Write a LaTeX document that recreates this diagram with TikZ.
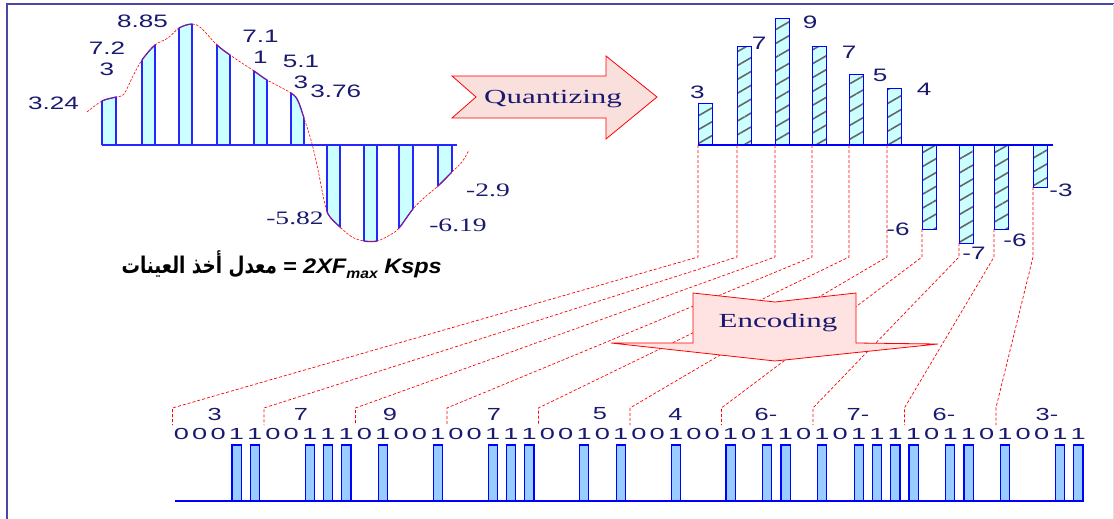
\documentclass[tikz,border=0pt]{standalone}
\usepackage{fontspec}
\usepackage{graphicx}
\setmainfont{Liberation Serif}
\newfontfamily\arialfont{Liberation Sans}
\newfontfamily\arabicfont[Script=Arabic]{DejaVu Sans}
\TeXXeTstate=1
\usetikzlibrary{patterns.meta}

\definecolor{navy}{RGB}{25,25,112}
\definecolor{framec}{RGB}{72,72,168}
\definecolor{barcyan}{RGB}{204,255,255}
\definecolor{pulseblue}{RGB}{153,204,255}
\definecolor{qpink}{RGB}{250,224,220}
\definecolor{epink}{RGB}{255,226,226}

% text in this figure is set wide
\newcommand{\wide}[1]{\scalebox{1.45}[1]{#1}}

% sampled signal, left half
\def\samples{102/116,142/155,179/192,217/230,254/267,291/304,327/340,364/377,399/413,438/452}
\def\wave{plot[smooth, tension=0.55] coordinates {(87,112) (102,101) (116,97) (124,94) (133,76)
  (142,60) (155,45) (168,38) (179,28) (192,24) (201,28) (217,45) (230,55) (254,71) (267,80)
  (291,93) (298,101) (304,118) (311,140) (317,165) (323,195) (328,214) (340,227) (352,237)
  (364,241) (377,241) (390,235) (399,228) (413,209) (425,197) (438,186) (452,172) (462,162) (469,150)}}

\begin{document}
\begin{tikzpicture}[x=1pt, y=-1pt,
  lbl/.style={text=navy, inner sep=0pt, align=center, font=\arialfont\fontsize{18}{21}\selectfont},
  neg/.style={text=navy, inner sep=0pt, font=\fontsize{19}{19}\selectfont},
  grp/.style={text=navy, inner sep=0pt, font=\arialfont\fontsize{17.5}{17.5}\selectfont},
  bit/.style={text=navy, inner sep=0pt, font=\arialfont\fontsize{16}{16}\selectfont},
  sample/.style={blue!85!white, line width=1.3pt},
  qbar/.style={draw=blue, line width=1pt, preaction={fill=barcyan},
    pattern={Lines[angle=30, distance=12pt, line width=1.6pt]}, pattern color=black!60},
  pulse/.style={draw=blue, line width=1.2pt, fill=pulseblue},
  link/.style={red, line width=0.7pt, dash pattern=on 3pt off 2pt},
  bigarrow/.style={draw=red, line width=0.8pt},
  arrowtext/.style={text=navy, inner sep=0pt, font=\fontsize{20}{20}\selectfont}
]
\useasboundingbox (0,0) rectangle (1114,519);

% frame
\draw[framec, line width=2pt] (7,519) -- (7,4.5) -- (1114,4.5);
\draw[black!12] (1113,4.5) -- (1113,519);

% samples under the curve
\begin{scope}
  \clip \wave -- (469,145) -- (87,145) -- cycle;
  \foreach \a/\b in \samples
    \fill[barcyan] (\a,0) rectangle (\b,300);
  \foreach \a/\b in \samples
    \draw[sample] (\a,0) -- (\a,300) (\b,0) -- (\b,300);
\end{scope}
\begin{scope}
  \clip \foreach \a/\b in \samples {(\a-0.7,0) rectangle (\b+0.7,300)};
  \draw[sample] \wave;
\end{scope}
\draw[red, line width=0.6pt, dash pattern=on 2.5pt off 1.5pt] \wave;
\draw[sample] (102,145) -- (457,145);

\node[lbl] (s1) at (53.5,103) {\wide{3.24}};
\node[lbl] (s2) at (107,58.5) {\wide{7.2}\\\wide{3}};
\node[lbl] (s3) at (142.5,21) {\wide{8.85}};
\node[lbl] (s4) at (260.5,47) {\wide{7.1}\\\wide{1}};
\node[lbl] (s5) at (301,72) {\wide{5.1}\\\wide{3}};
\node[lbl] (s6) at (335.7,91.5) {\wide{3.76}};
\node[neg] (s7) at (295,218.5) {\wide{-5.82}};
\node[neg] (s9) at (458,225) {\wide{-6.19}};
\node[neg] (s10) at (488,190) {\wide{-2.9}};

% quantizing arrow
\draw[bigarrow, fill=qpink] (452,76) -- (606,76) -- (606,56) -- (657,97) -- (606,139)
  -- (606,118) -- (452,118) -- (476,97) -- cycle;
\node[arrowtext, anchor=base] (qt) at (553,103) {\scalebox{1.55}[1]{Quantizing}};

% quantized levels
\foreach \x/\v [count=\i] in {698/3,737/7,775/9,812/7,849/5,887/4,922/-6,959/-7,994/-6,1033/-3} {
  \draw[qbar] (\x,145) rectangle ++(14,-14*\v);
  \pgfmathsetmacro\ys{max(145,145-14*\v)}
  \coordinate (q\i) at (\x,\ys);
  \coordinate (k\i) at (\x,257);
}
\draw[blue, line width=1.2pt] (698,145) -- (1053,145);

\node[lbl] (l1) at (697.5,92) {\wide{3}};
\node[lbl] (l2) at (759,43) {\wide{7}};
\node[lbl] (l3) at (810,22) {\wide{9}};
\node[lbl] (l4) at (849,52) {\wide{7}};
\node[lbl] (l5) at (880,75) {\wide{5}};
\node[lbl] (l6) at (924,89) {\wide{4}};
\node[lbl] (l7) at (898,229) {\wide{-6}};
\node[lbl] (l8) at (974,253) {\wide{-7}};
\node[lbl] (l9) at (1015,240) {\wide{-6}};
\node[lbl] (l10) at (1061,190) {\wide{-3}};

% from each level down to its code word
\foreach \i in {1,...,10} {
  \pgfmathsetmacro\gx{172.4+91.5*(\i-1)}
  \coordinate (g\i) at (\gx,408);
  \coordinate (h\i) at (\gx,425);
  \draw[link] (q\i) -- (k\i) -- (g\i) -- (h\i);
}

% encoding arrow
\draw[bigarrow, fill=epink] (693,293) -- (775,302) -- (856,293) -- (856,343) -- (938,344)
  -- (775,361) -- (611,343) -- (693,343) -- cycle;
\node[arrowtext, anchor=base] (et) at (778,327) {\scalebox{1.55}[1]{Encoding}};

% sampling rate
\node[anchor=base east, inner sep=0pt] (rate) at (442,273)
  {\scalebox{0.8}[1]{\arabicfont\bfseries\fontsize{23}{23}\selectfont\beginR معدل أخذ العينات\endR}\hspace{6pt}%
   \scalebox{1.12}[1]{\arialfont\bfseries\itshape\fontsize{21}{21}\selectfont = 2XF\raisebox{-5pt}{\fontsize{14}{14}\selectfont max} Ksps}};

% code words and pulse train
\foreach \t/\x [count=\i] in {3/214.7,7/301,9/390,7/494,5/600,4/675.5,6-/766,7-/858,6-/944,3-/1047}
  \node[grp] (v\i) at (\x,414) {\wide{\t}};
\draw[blue, line width=1.2pt] (175,501) -- (1083.5,501);
\foreach \b [count=\i from 0] in {0,0,0,1,1, 0,0,1,1,1, 0,1,0,0,1, 0,0,1,1,1, 0,0,1,0,1,
                                   0,0,1,0,0, 1,0,1,1,0, 1,0,1,1,1, 1,0,1,1,0, 1,0,0,1,1} {
  \node[bit] (b\i) at (181.5+18.3*\i,433.5) {\scalebox{1.7}[1]{\b}};
  \ifnum\b=1 \draw[pulse] (177+18.3*\i,445) rectangle ++(9.2,56); \fi
}
\end{tikzpicture}
\end{document}
